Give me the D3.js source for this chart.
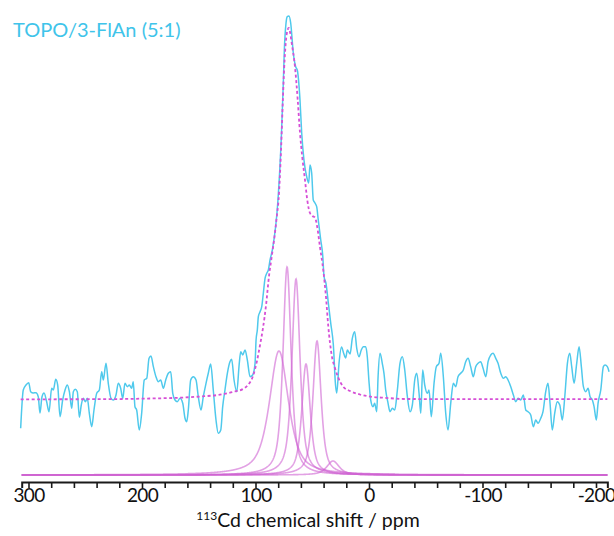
<!DOCTYPE html>
<html><head><meta charset="utf-8">
<script src="https://cdn.jsdelivr.net/npm/d3@7/dist/d3.min.js"></script>
<style>
html,body{margin:0;padding:0;background:#fff;}
svg{display:block;}
text{font-family:Lato,"Open Sans",sans-serif;}
</style></head><body>
<script>
// ---------- data ----------
const title = "TOPO/3-FlAn (5:1)";
const xTickValues = d3.range(300, -201, -20);
const xLabelValues = [300, 200, 100, 0, -100, -200];

// experimental spectrum (ppm, intensity above its own baseline)
const specPpm = [306.9,304.6,302.2,299.8,298.1,295.8,293.4,291.4,289.9,288.1,286.3,284.0,281.9,279.6,278.1,276.0,274.3,272.2,269.9,267.8,265.8,264.0,261.9,260.5,258.8,257.0,255.2,253.5,251.7,249.9,248.2,246.4,244.3,242.3,239.9,237.6,235.5,234.1,231.7,229.7,227.3,225.3,222.9,220.9,218.8,217.0,215.0,212.9,211.2,209.1,207.7,206.2,204.7,202.4,200.3,198.0,195.8,193.8,192.1,190.0,187.7,185.6,183.5,181.2,179.1,176.8,174.7,172.9,170.9,168.9,166.5,164.1,162.1,160.6,159.2,157.1,154.8,152.4,150.4,148.0,146.0,143.6,141.6,139.5,137.2,134.8,132.8,130.6,128.9,126.9,124.8,122.5,121.0,118.9,116.5,114.3,113.0,111.3,109.2,107.2,104.8,102.5,100.4,99.5,98.4,97.5,96.0,94.5,93.1,91.6,90.1,88.7,87.2,85.0,80.2,77.1,75.5,74.6,73.1,72.0,70.5,69.0,66.7,64.6,63.2,60.8,59.3,57.3,54.9,53.1,52.0,50.5,49.1,47.6,46.1,44.7,42.5,40.8,39.6,37.9,35.8,33.7,31.4,29.5,28.4,26.4,24.2,22.4,20.5,19.1,16.7,14.7,12.6,10.8,8.8,6.8,5.0,2.9,1.5,0.0,-1.5,-3.5,-5.0,-6.8,-8.0,-9.7,-11.7,-13.2,-14.7,-16.8,-18.5,-20.6,-22.7,-25.0,-27.3,-29.4,-31.5,-33.8,-36.2,-38.2,-40.3,-42.1,-44.1,-45.6,-47.3,-49.1,-51.4,-52.9,-54.9,-57.3,-59.3,-61.7,-63.2,-65.5,-67.6,-69.6,-72.0,-74.3,-76.4,-78.4,-80.8,-83.1,-85.2,-87.3,-89.6,-91.9,-94.0,-96.1,-98.4,-100.5,-102.9,-104.9,-107.3,-109.3,-111.7,-113.7,-116.1,-118.4,-120.5,-122.5,-124.9,-127.2,-129.3,-131.3,-133.7,-136.0,-138.1,-140.1,-142.5,-144.8,-146.9,-148.9,-151.3,-153.3,-155.7,-157.7,-159.5,-161.5,-163.6,-165.9,-168.1,-170.3,-172.5,-174.8,-176.9,-178.6,-180.7,-183.0,-185.1,-187.1,-188.9,-191.0,-193.0,-194.8,-196.8,-198.3,-200.3,-201.8,-204.2,-206.5,-208.0,-210.0,-211.5];
const specInt = [-29.0,9.3,14.3,16.6,7.6,6.3,6.6,2.6,-13.7,2.6,6.3,-2.4,-12.4,11.0,9.3,20.0,14.3,-17.4,-0.7,9.3,14.3,7.6,-9.0,7.6,10.0,7.6,-18.0,-5.7,1.0,-2.4,1.0,-14.0,-27.4,-10.7,6.0,9.3,27.6,19.3,36.0,16.0,1.0,-0.7,4.3,16.0,11.0,1.0,16.0,12.6,14.3,11.0,17.6,-7.4,-10.7,-30.7,-14.0,19.3,21.0,41.0,43.3,32.6,22.6,17.6,19.3,11.0,19.3,26.0,27.6,6.0,-0.7,-2.4,1.0,-4.0,-19.0,-22.4,-10.7,19.3,22.6,19.3,2.6,-10.7,2.6,16.0,26.0,35.3,9.3,-20.7,-34.0,-30.7,-7.4,9.3,26.0,37.6,40.0,19.3,7.6,36.0,47.6,44.3,49.3,39.3,22.6,24.3,36.0,59.3,69.3,82.6,87.6,92.6,106.0,121.0,126.0,129.3,139.3,150.3,199.3,266.3,316.3,349.3,376.3,382.6,383.3,376.3,346.3,332.6,329.3,299.3,266.3,239.3,222.6,216.3,234.3,226.3,199.3,196.3,192.6,179.3,159.3,144.3,122.6,116.0,96.0,76.0,54.3,14.3,6.3,36.3,52.3,46.3,41.3,49.3,45.3,61.0,67.6,51.0,42.6,49.3,52.6,52.6,42.6,17.6,-0.7,-7.4,-4.0,-12.4,22.6,46.0,36.0,26.0,9.3,-4.0,-12.4,-9.0,-10.7,9.3,36.0,42.6,29.3,2.6,-12.4,-5.7,19.3,26.0,6.0,-14.0,29.3,14.3,6.0,9.3,-17.4,16.0,32.6,36.0,46.0,22.6,-14.0,-30.7,-4.0,16.0,12.6,22.6,26.0,29.3,37.6,41.0,32.6,22.6,32.6,36.0,37.6,31.0,22.6,37.6,44.3,46.0,41.0,36.0,26.0,21.0,22.6,19.3,12.6,4.3,-2.4,1.0,-0.7,4.3,-10.7,-12.4,-15.7,-27.4,-20.7,-24.0,-19.0,-12.4,7.6,16.0,-4.0,-30.7,-14.0,-2.4,-5.7,-20.7,2.6,36.0,46.0,32.6,16.0,36.0,52.6,32.6,12.6,7.6,11.0,2.6,-0.7,-7.4,-20.7,-4.0,9.3,32.6,34.3,32.6,27.6];

// total fit (dotted)
const fitPpm = [306.9,237.0,193.0,166.5,148.9,131.3,118.1,111.0,106.6,102.2,98.7,96.0,93.4,90.7,88.1,85.5,83.3,81.1,79.7,77.5,75.9,74.7,73.3,72.0,70.7,69.6,68.1,65.2,62.8,60.8,58.8,56.4,54.4,52.0,49.8,47.6,45.6,43.2,40.3,37.9,35.9,32.9,30.0,27.3,22.5,16.7,7.9,-2.6,-14.1,-30.8,-210];
const fitInt = [0,0.1,0.8,1.6,2.8,4.6,7.8,10.3,14.3,23.3,38.3,54.3,71.3,94.3,123.3,144.3,162.3,184.3,199.3,249.3,299.3,332.3,357.3,368.3,371.3,367.3,356.3,332.3,299.3,266.3,242.3,219.3,199.3,186.3,183.3,181.8,172.3,152.3,129.3,102.3,73.3,44.3,31.3,22.3,12.3,8.3,4.8,2.5,1.5,0.3,0.1];

// deconvoluted components: centre (ppm), height, FWHM (ppm)
const compCenter = [72.2, 64.3, 79.3, 55.5, 45.8, 31.7];
const compHeight = [208, 196, 124, 111, 134, 14];
const compFwhm   = [8.5, 8.5, 20, 8.8, 8.5, 13];
const lorentzFraction = 0.7;

const spectrumOffset = 75.7;

// ---------- chart ----------
const W = 614, H = 536;
const svg = d3.select("body").append("svg").attr("width", W).attr("height", H);

const x = d3.scaleLinear().domain([306, -210]).range([21.69, 607.35]);
const y = d3.scaleLinear().domain([0, 460]).range([475, 15]);

function pv(p, c, h, f) {
  const d = (p - c) / (f / 2);
  const L = 1 / (1 + d * d);
  const G = Math.exp(-Math.LN2 * d * d);
  return h * (lorentzFraction * L + (1 - lorentzFraction) * G);
}

// components
const grid = d3.range(306, -210.01, -0.25);
const compLine = d3.line().x(d => x(d[0])).y(d => y(d[1]));
compCenter.forEach((c, i) => {
  const pts = grid.map(p => [p, pv(p, c, compHeight[i], compFwhm[i])]);
  svg.append("path").attr("d", compLine(pts))
    .attr("fill", "none").attr("stroke", "#cf62d2")
    .attr("stroke-opacity", 0.6).attr("stroke-width", 1.6);
});

// experimental spectrum
const n = Math.min(specPpm.length, specInt.length);
const spec = d3.range(n).map(i => [specPpm[i], specInt[i]]);
const sLine = d3.line().x(d => x(d[0])).y(d => y(d[1] + spectrumOffset)).curve(d3.curveMonotoneX);
svg.append("path").attr("d", sLine(spec))
  .attr("fill", "none").attr("stroke", "#4fc9ec").attr("stroke-width", 1.5);

// fit
const fit = fitPpm.map((p, i) => [p, fitInt[i]]);
svg.append("path").attr("d", sLine(fit))
  .attr("fill", "none").attr("stroke", "#d64fd6").attr("stroke-width", 1.8)
  .attr("stroke-dasharray", "3,2.5");

// axis
const ax = svg.append("g").attr("transform", "translate(0,482)")
  .call(d3.axisBottom(x).tickValues(xTickValues).tickSize(6).tickPadding(1)
    .tickFormat(d => xLabelValues.includes(d) ? d : ""));
ax.select(".domain").attr("stroke", "#1a1a1a").attr("stroke-width", 2);
ax.selectAll(".tick line").attr("stroke", "#1a1a1a").attr("stroke-width", 1.6);
ax.selectAll(".tick text").attr("fill", "#111").attr("font-size", 19)
  .attr("letter-spacing", -0.6)
  .attr("font-family", "Lato, 'Open Sans', sans-serif");

// axis title
const t = svg.append("text").attr("x", 308).attr("y", 527).attr("text-anchor", "middle")
  .attr("font-size", 19.5).attr("fill", "#111");
t.append("tspan").text("113").attr("font-size", 12).attr("dy", -7);
t.append("tspan").text("Cd chemical shift / ppm").attr("dy", 7);

// title
svg.append("text").attr("x", 13).attr("y", 37).attr("font-size", 20)
  .attr("fill", "#3fc4ea").text(title);
</script>
</body></html>
